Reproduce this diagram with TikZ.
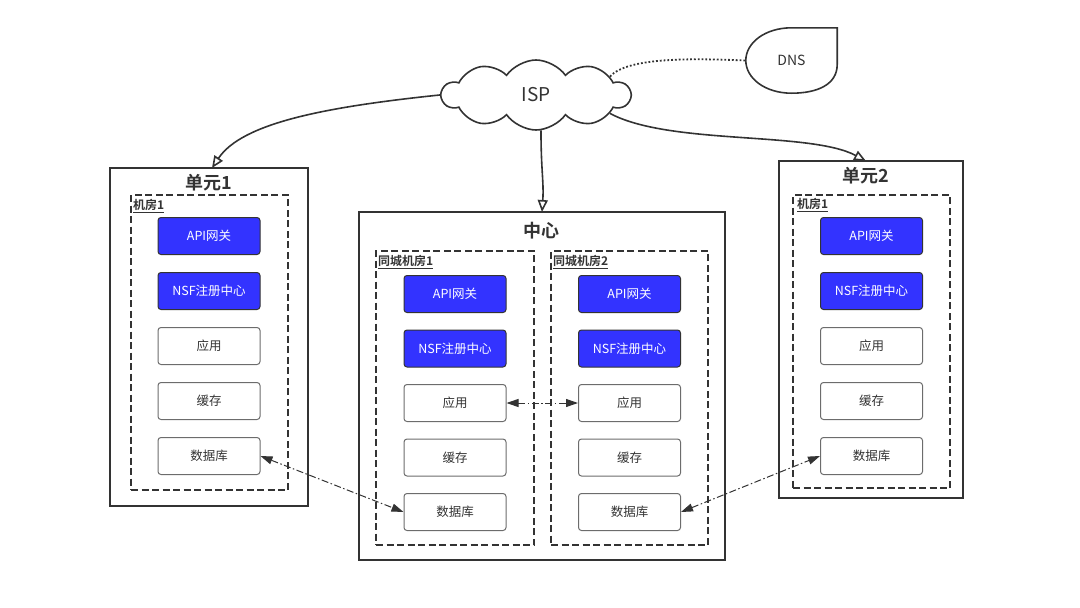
\documentclass[tikz,border=0pt]{standalone}
\usepackage{fontspec}
\setmainfont{Noto Sans CJK SC}[BoldFont={Noto Sans CJK SC Bold}]
\usetikzlibrary{arrows.meta,shapes.symbols}
\definecolor{nsblue}{HTML}{3333FF}
\definecolor{edge}{HTML}{333333}
\tikzset{
    svc/.style={draw=gray!85!black,line width=1pt,rounded corners=3pt,minimum width=102pt,minimum height=37pt,inner sep=0pt,font=\fontsize{12.5}{14}\selectfont,text=black!80},
    core/.style={svc,fill=nsblue,draw=edge,text=white},
    unitbox/.style={draw=edge,line width=2pt,inner sep=0pt,outer sep=0pt},
    roombox/.style={unitbox,dash pattern=on 7pt off 3.5pt},
    unittitle/.style={font=\bfseries\fontsize{18}{20}\selectfont,text=edge},
    roomlabel/.style={anchor=west,inner sep=1pt,font=\bfseries\fontsize{12}{14}\selectfont,text=edge},
    feed/.style={draw=edge,line width=1.6pt,-{Triangle[open,length=12pt,width=10pt]}},
    sync/.style={draw=edge,line width=1pt,dash pattern=on 7pt off 2.5pt on 1.5pt off 2.5pt,{Triangle[length=12pt,width=8pt]}-{Triangle[length=12pt,width=8pt]}}
}
\begin{document}
\begin{tikzpicture}[x=1pt,y=-1pt]
    \useasboundingbox (0,0) rectangle (1080,608);
    \node[cloud,cloud puffs=10,cloud puff arc=110,aspect=2.6,draw=edge,line width=1.6pt,minimum width=188pt,minimum height=70pt,font=\fontsize{19}{21}\selectfont,text=edge] (isp) at (536,95) {ISP};
    \node[minimum width=91pt,minimum height=65pt,font=\fontsize{14}{16}\selectfont,text=edge] (dns) at (791.5,60.5) {DNS};
    \draw[edge,line width=1.6pt] (dns.north) -- (dns.north east) -- ([yshift=-4pt]dns.east) .. controls +(0,20) and +(26,0) .. (dns.south) .. controls +(-26,0) and +(0,18) .. (dns.west) .. controls +(0,-18) and +(-26,0) .. (dns.north);
    \draw[edge,line width=1.8pt,dotted] (isp.14) .. controls +(18,-20) and +(-50,-2) .. (dns.west);
    \node[unitbox,minimum width=198pt,minimum height=338pt] (u1) at (209,337) {};
    \node[unitbox,minimum width=366pt,minimum height=348pt] (zx) at (542,386) {};
    \node[unitbox,minimum width=184pt,minimum height=337pt] (u2) at (871,329.5) {};
    \node[unittitle] (u1t) at (209,183) {单元1};
    \node[unittitle] (zxt) at (541,231) {中心};
    \node[unittitle] (u2t) at (866,176) {单元2};
    \node[roombox,minimum width=157pt,minimum height=295pt] (r1) at (209.5,342.5) {};
    \node[roombox,minimum width=158pt,minimum height=294pt] (c1) at (455,398) {};
    \node[roombox,minimum width=157pt,minimum height=294pt] (c2) at (629.5,398) {};
    \node[roombox,minimum width=157pt,minimum height=293pt] (r2) at (871.5,341.5) {};
    \node[roomlabel] (r1l) at (132,206) {\underline{机房1}};
    \node[roomlabel] (c1l) at (377,262) {\underline{同城机房1}};
    \node[roomlabel] (c2l) at (552,262) {\underline{同城机房2}};
    \node[roomlabel] (r2l) at (796,205) {\underline{机房1}};
    \foreach \c/\x/\y/\d in{u1/209/236/55,z1/455/294/54.5,z2/629.5/294/54.5,u2/871.5/236/55}{
            \node[core] (\c api) at (\x,\y) {API网关};
            \node[core] (\c nsf) at (\x,{\y+\d}) {NSF注册中心};
            \node[svc] (\c app) at (\x,{\y+2*\d}) {应用};
            \node[svc] (\c cache) at (\x,{\y+3*\d}) {缓存};
            \node[svc] (\c db) at (\x,{\y+4*\d}) {数据库};
        }
    \draw[feed] (isp.west) .. controls +(-115,12) and +(30,-45) .. ([xshift=3pt]u1.north);
    \draw[feed] (isp.-82) .. controls +(0,40) and +(2,-30) .. (zx.north);
    \draw[feed] (isp.-14) .. controls +(60,32) and +(-56,-30) .. ([xshift=-5pt]u2.north);
    \draw[sync] (u1db.east) -- (z1db.west);
    \draw[sync] (z1app.east) -- (z2app.west);
    \draw[sync] (z2db.east) -- (u2db.west);
\end{tikzpicture}
\end{document}
